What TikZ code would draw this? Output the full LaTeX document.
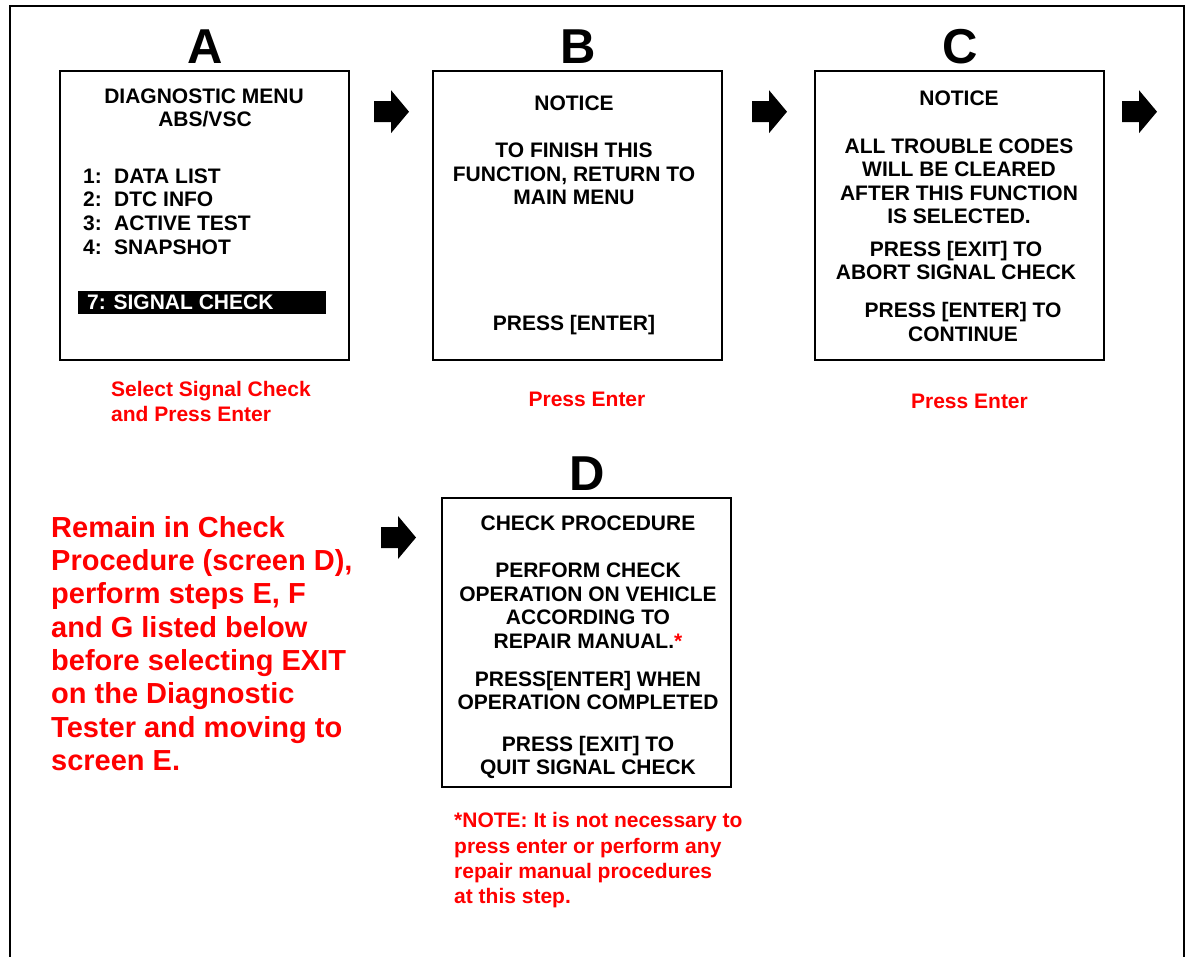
\documentclass[tikz,border=0pt]{standalone}
\usepackage{fontspec}
\setmainfont{Liberation Sans}
\definecolor{rd}{RGB}{255,0,0}
\tikzset{
  frame/.style={draw=black, line width=2pt},
  screen/.style={draw=black, line width=2pt, minimum width=289pt, minimum height=289pt, inner sep=0pt},
  tx/.style={font=\bfseries\fontsize{21}{25}\selectfont, inner sep=0pt, anchor=base},
  txl/.style={tx, anchor=base west},
  red/.style={tx, text=rd},
  redl/.style={txl, text=rd},
  bigred/.style={font=\bfseries\fontsize{29}{33}\selectfont, inner sep=0pt, anchor=base west, text=rd},
  letter/.style={font=\bfseries\fontsize{49}{58}\selectfont, inner sep=0pt, anchor=base},
  blockarrow/.pic={\fill[black] (0,-10.5) -- (17,-10.5) -- (17,-21.5) -- (35,0) -- (17,21.5) -- (17,10.5) -- (0,10.5) -- cycle;}
}
\begin{document}
\begin{tikzpicture}[x=1pt,y=-1pt]
\useasboundingbox (0,0) rectangle (1188,956);
% outer frame (open at the bottom)
\coordinate (fl) at (10,960);
\coordinate (ftl) at (10,6);
\coordinate (ftr) at (1184,6);
\coordinate (fr) at (1184,960);
\draw[frame] (fl) -- (ftl) -- (ftr) -- (fr);

% screens
\node[screen] (A) at (204.5,215.5) {};
\node[screen] (B) at (577.5,215.5) {};
\node[screen] (C) at (959.5,215.5) {};
\node[screen] (D) at (586.5,642.5) {};

% letters
\node[letter] (LA) at (205,63) {A};
\node[letter] (LB) at (578,63) {B};
\node[letter] (LC) at (960,63) {C};
\node[letter] (LD) at (587,490) {D};

% arrows
\pic at (374,111.7) {blockarrow};
\pic at (752,111.7) {blockarrow};
\pic at (1122,111.7) {blockarrow};
\pic at (381,537.5) {blockarrow};

% screen A
\node[tx] (a1) at (204,103) {DIAGNOSTIC MENU};
\node[tx] (a2) at (205,126) {ABS/VSC};
\node[txl] (a3) at (83,183) {\makebox[31pt][l]{1:}DATA LIST};
\node[txl] (a4) at (83,206) {\makebox[31pt][l]{2:}DTC INFO};
\node[txl] (a5) at (83,230) {\makebox[31pt][l]{3:}ACTIVE TEST};
\node[txl] (a6) at (83,254) {\makebox[31pt][l]{4:}SNAPSHOT};
\node[fill=black, minimum width=248pt, minimum height=23pt, inner sep=0pt] (sel) at (202,302.5) {};
\node[txl, text=white] (a7) at (87,309) {7: SIGNAL CHECK};
\node[redl] (ca1) at (111,396) {Select Signal Check};
\node[redl] (ca2) at (111,421) {and Press Enter};

% screen B
\node[tx] (b1) at (574,110) {NOTICE};
\node[tx] (b2) at (574,157) {TO FINISH THIS};
\node[tx] (b3) at (574,181) {FUNCTION, RETURN TO};
\node[tx] (b4) at (574,204) {MAIN MENU};
\node[tx] (b5) at (574,330) {PRESS [ENTER]};
\node[red] (cb) at (587,406) {Press Enter};

% screen C
\node[tx] (c1) at (959,105) {NOTICE};
\node[tx] (c2) at (959,153) {ALL TROUBLE CODES};
\node[tx] (c3) at (959,176) {WILL BE CLEARED};
\node[tx] (c4) at (959,200) {AFTER THIS FUNCTION};
\node[tx] (c5) at (959,223) {IS SELECTED.};
\node[tx] (c6) at (956,256) {PRESS [EXIT] TO};
\node[tx] (c7) at (956,279) {ABORT SIGNAL CHECK};
\node[tx] (c8) at (963,317) {PRESS [ENTER] TO};
\node[tx] (c9) at (963,341) {CONTINUE};
\node[red] (cc) at (969.5,408) {Press Enter};

% screen D
\node[tx] (d1) at (588,530) {CHECK PROCEDURE};
\node[tx] (d2) at (588,577) {PERFORM CHECK};
\node[tx] (d3) at (588,601) {OPERATION ON VEHICLE};
\node[tx] (d4) at (588,624) {ACCORDING TO};
\node[tx] (d5) at (588,648) {REPAIR MANUAL.\textcolor{rd}{*}};
\node[tx] (d6) at (588,686) {PRESS[ENTER] WHEN};
\node[tx] (d7) at (588,709) {OPERATION COMPLETED};
\node[tx] (d8) at (588,751) {PRESS [EXIT] TO};
\node[tx] (d9) at (588,774) {QUIT SIGNAL CHECK};

% note under D
\node[redl] (n1) at (454,827) {*NOTE: It is not necessary to};
\node[redl] (n2) at (454,853) {press enter or perform any};
\node[redl] (n3) at (454,878) {repair manual procedures};
\node[redl] (n4) at (454,903) {at this step.};

% left instruction text
\node[bigred] (r1) at (51,537) {Remain in Check};
\node[bigred] (r2) at (51,570) {Procedure (screen D),};
\node[bigred] (r3) at (51,603) {perform steps E, F};
\node[bigred] (r4) at (51,637) {and G listed below};
\node[bigred] (r5) at (51,670) {before selecting EXIT};
\node[bigred] (r6) at (51,703) {on the Diagnostic};
\node[bigred] (r7) at (51,737) {Tester and moving to};
\node[bigred] (r8) at (51,770) {screen E.};
\end{tikzpicture}
\end{document}
